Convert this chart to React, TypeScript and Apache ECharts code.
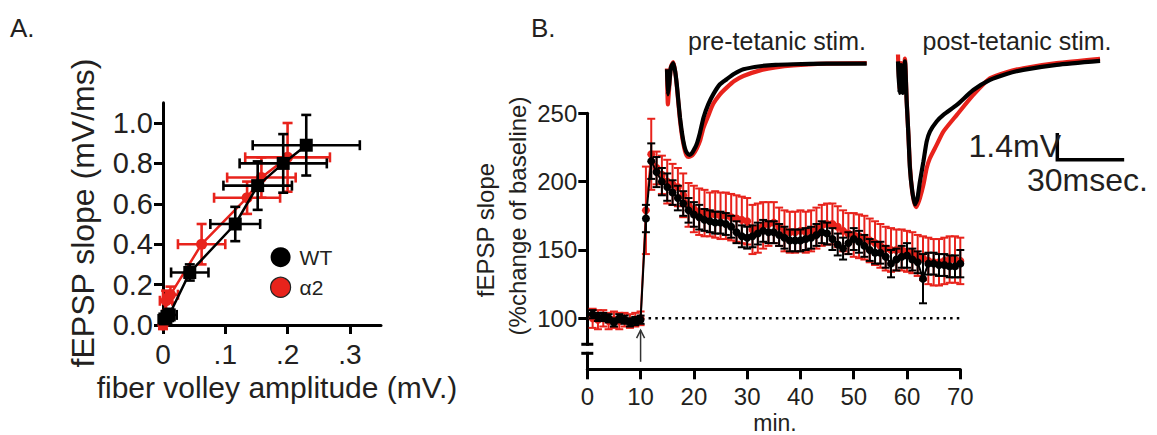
import React, { useEffect, useRef } from 'react';
import * as echarts from 'echarts';

const FONT = '"Liberation Sans", Arial, Helvetica, sans-serif';
const INK = '#231f20';
const RED = '#e8231c';
const BLACK = '#000000';

// ---------- Panel A: input/output ----------
const wtFiberVolley = [0.003, 0.01, 0.043, 0.116, 0.152, 0.193, 0.23];
const wtFiberVolleyErr = [0.01, 0.012, 0.03, 0.04, 0.055, 0.07, 0.086];
const wtSlope = [0.03, 0.05, 0.26, 0.5, 0.69, 0.8, 0.89];
const wtSlopeErr = [0.02, 0.03, 0.04, 0.085, 0.12, 0.145, 0.15];

const a2FiberVolley = [0.0, 0.005, 0.012, 0.062, 0.135, 0.158, 0.2];
const a2FiberVolleyErr = [0.004, 0.01, 0.012, 0.038, 0.053, 0.055, 0.068];
const a2Slope = [0.0, 0.12, 0.15, 0.4, 0.63, 0.73, 0.83];
const a2SlopeErr = [0.02, 0.05, 0.04, 0.1, 0.08, 0.1, 0.17];

const aXTicks = [0, 0.1, 0.2, 0.3];
const aYTicks = [0, 0.2, 0.4, 0.6, 0.8, 1.0];

// ---------- Panel B: LTP time course ----------
const minutes = Array.from({ length: 70 }, (_, i) => i + 1);
const wtPercent = [
  103, 101, 101, 100, 97, 100, 99, 97, 98, 99,
  173, 215, 207, 200, 196, 192, 188, 184, 179, 176,
  174, 172, 171, 170, 170, 169, 167, 163, 160, 159,
  160, 162, 164, 163, 163, 161, 159, 157, 157, 157,
  158, 159, 161, 163, 162, 158, 154, 151, 155, 158,
  156, 153, 150, 148, 148, 145, 140, 143, 145, 146,
  143, 141, 129, 140, 140, 139, 139, 138, 138, 140,
];
const wtPercentErr = [
  3, 3, 3, 3, 3, 3, 3, 3, 3, 3,
  10, 13, 11, 10, 10, 9, 9, 9, 9, 9,
  9, 8, 8, 8, 8, 8, 8, 8, 8, 8,
  8, 8, 8, 8, 8, 8, 8, 8, 8, 8,
  8, 8, 8, 8, 8, 8, 8, 8, 8, 8,
  8, 8, 8, 8, 8, 8, 10, 8, 8, 9,
  8, 8, 18, 8, 8, 8, 8, 8, 8, 10,
];
const a2Percent = [
  100, 99, 100, 98, 99, 98, 99, 98, 99, 100,
  179, 220, 210, 205, 200, 198, 196, 190, 183, 180,
  178, 177, 176, 176, 175, 175, 174, 173, 172, 171,
  165, 166, 168, 169, 170, 167, 164, 163, 163, 164,
  163, 164, 166, 168, 169, 169, 167, 164, 162, 161,
  160, 159, 157, 155, 153, 151, 150, 150, 150, 149,
  148, 146, 144, 142, 141, 141, 142, 143, 143, 142,
];
const a2PercentErr = [
  7, 7, 6, 6, 6, 6, 5, 5, 5, 5,
  32, 26, 12, 14, 16, 15, 14, 16, 16, 17,
  17, 17, 16, 17, 17, 17, 17, 17, 17, 17,
  18, 18, 17, 16, 15, 14, 15, 15, 15, 15,
  15, 15, 15, 15, 15, 15, 15, 15, 15, 16,
  16, 16, 16, 16, 16, 16, 16, 15, 15, 15,
  15, 15, 16, 17, 17, 17, 17, 17, 17, 17,
];
const bYTicks = [100, 150, 200, 250];
const baselineLevel = 100;
const dottedFrom = 11.5;
const stimMinute = 10;
const arrowFrom = 68.2;
const arrowTo = 91.4;
const breakUpper = 81;
const breakLower = 74.4;

// ---------- Insets: example traces (ms, mV) ----------
const preWtTrace: [number, number][] = [
  [0, -0.35], [0.4, -1.75], [1.0, -1.2], [1.8, -0.25], [2.9, 0.0], [3.8, -0.5],
  [4.5, -1.18], [5.3, -2.2], [6.0, -3.04], [6.8, -3.8], [7.5, -4.33], [8.3, -4.75],
  [9.1, -4.98], [10.3, -5.11], [11.2, -5.05], [12.1, -4.89], [13.7, -4.5],
  [15.2, -3.87], [16.8, -3.04], [19.0, -2.3], [21.3, -1.74], [24.4, -1.18],
  [27.5, -0.9], [31, -0.6], [35.2, -0.35], [42.9, -0.18], [50, -0.1],
  [58.2, -0.07], [73.6, -0.04], [92, -0.03],
];
const preA2Trace: [number, number][] = [
  [0, -0.3], [0.4, -2.3], [1.0, -1.4], [1.8, -0.2], [2.9, 0.05], [3.8, -0.5],
  [4.5, -1.25], [5.3, -2.3], [6.0, -3.2], [6.8, -3.95], [7.5, -4.45], [8.3, -4.9],
  [9.1, -5.15], [9.8, -5.22], [11.0, -5.18], [12.1, -5.07], [13.7, -4.75],
  [15.2, -4.33], [16.8, -3.6], [19.0, -2.94], [21.3, -2.27], [24.4, -1.74],
  [27.5, -1.37], [31, -1.0], [35.2, -0.72], [42.9, -0.41], [50, -0.24],
  [58.2, -0.13], [73.6, -0.04], [92, 0.0],
];
const postWtTrace: [number, number][] = [
  [0, -0.1], [0.6, -1.85], [1.4, -0.3], [2.2, -1.85], [3.2, -0.1],
  [4.0, -2.33], [4.8, -4.18], [5.5, -6.04], [6.6, -7.33], [7.8, -8.05],
  [8.9, -7.75], [10.1, -6.78], [11.7, -5.67], [13.2, -4.56], [14.7, -4.0],
  [17.8, -3.44], [20.9, -3.07], [27.1, -2.52], [34.7, -1.69], [42.4, -1.13],
  [50, -0.8], [57.7, -0.57], [73.1, -0.29], [93.1, -0.07],
];
const postA2Trace: [number, number][] = [
  [0, 0.28], [0.6, -1.7], [1.4, -0.2], [2.2, -1.6], [3.2, 0.05],
  [4.0, -2.3], [4.8, -4.2], [5.6, -6.1], [6.8, -7.55], [8.3, -8.2],
  [9.2, -8.0], [10.1, -7.7], [11.7, -6.96], [13.2, -6.04], [14.7, -5.48],
  [17.8, -4.74], [20.9, -4.0], [27.1, -3.07], [34.7, -1.96], [42.4, -1.04],
  [50, -0.7], [57.7, -0.48], [73.1, -0.2], [93.1, 0.04],
];
const scaleBarT0 = 73.4;
const scaleBarV0 = -5.57;
const scaleBarMs = 30;
const scaleBarMv = 1.4;

const errA = (color: string) => (params: any, api: any) => {
  const x = api.value(0), y = api.value(1), ex = api.value(2), ey = api.value(3);
  const l = api.coord([x - ex, y]);
  const r = api.coord([x + ex, y]);
  const b = api.coord([x, y - ey]);
  const t = api.coord([x, y + ey]);
  const c = 5;
  const style = { stroke: color, lineWidth: 2.6 };
  return {
    type: 'group',
    children: [
      { type: 'line', shape: { x1: l[0], y1: l[1], x2: r[0], y2: r[1] }, style },
      { type: 'line', shape: { x1: l[0], y1: l[1] - c, x2: l[0], y2: l[1] + c }, style },
      { type: 'line', shape: { x1: r[0], y1: r[1] - c, x2: r[0], y2: r[1] + c }, style },
      { type: 'line', shape: { x1: b[0], y1: b[1], x2: t[0], y2: t[1] }, style },
      { type: 'line', shape: { x1: b[0] - c, y1: b[1], x2: b[0] + c, y2: b[1] }, style },
      { type: 'line', shape: { x1: t[0] - c, y1: t[1], x2: t[0] + c, y2: t[1] }, style },
    ],
  };
};

const errB = (color: string) => (params: any, api: any) => {
  const x = api.value(0), y = api.value(1), e = api.value(2);
  const b = api.coord([x, y - e]);
  const t = api.coord([x, y + e]);
  const c = 4;
  const style = { stroke: color, lineWidth: 2 };
  return {
    type: 'group',
    children: [
      { type: 'line', shape: { x1: b[0], y1: b[1], x2: t[0], y2: t[1] }, style },
      { type: 'line', shape: { x1: b[0] - c, y1: b[1], x2: b[0] + c, y2: b[1] }, style },
      { type: 'line', shape: { x1: t[0] - c, y1: t[1], x2: t[0] + c, y2: t[1] }, style },
    ],
  };
};

const axisLineStyle = { width: 3, color: BLACK };

function buildOption(): any {
  const wtA = wtFiberVolley.map((x, i) => [x, wtSlope[i], wtFiberVolleyErr[i], wtSlopeErr[i]]);
  const a2A = a2FiberVolley.map((x, i) => [x, a2Slope[i], a2FiberVolleyErr[i], a2SlopeErr[i]]);
  const wtB = minutes.map((m, i) => [m, wtPercent[i], wtPercentErr[i]]);
  const a2B = minutes.map((m, i) => [m, a2Percent[i], a2PercentErr[i]]);
  const scaleBar = [
    [scaleBarT0, scaleBarV0 + scaleBarMv],
    [scaleBarT0, scaleBarV0],
    [scaleBarT0 + scaleBarMs, scaleBarV0],
  ];
  const traceStyle = (color: string, w: number) => ({
    type: 'line', showSymbol: false, symbol: 'none', silent: true, smooth: 0.2,
    lineStyle: { color, width: w }, itemStyle: { color },
  });
  return {
    animation: false,
    backgroundColor: '#ffffff',
    textStyle: { fontFamily: FONT },
    grid: [
      { left: 163, top: 102.8, width: 218, height: 222.2 },
      { left: 587.3, top: 113.3, width: 373, height: 256 },
      { left: 667, top: 50.4, width: 206.2, height: 120.6 },
      { left: 898, top: 47, width: 227.9, height: 165.6 },
    ],
    legend: {
      data: [
        { name: 'WT', icon: 'circle', itemStyle: { color: BLACK } },
        { name: 'α2', icon: 'circle', itemStyle: { color: RED, borderColor: '#222', borderWidth: 1.2 } },
      ],
      orient: 'vertical', left: 270, top: 246.7, padding: 0, itemWidth: 20, itemHeight: 20, itemGap: 9,
      selectedMode: false,
      textStyle: { fontSize: 21, color: INK, fontFamily: FONT, padding: [0, 0, 0, 4] },
    },
    xAxis: [
      {
        gridIndex: 0, type: 'value', min: 0, max: 0.35,
        axisLine: { lineStyle: axisLineStyle },
        axisTick: { length: 9, lineStyle: { width: 3, color: BLACK }, customValues: aXTicks },
        axisLabel: {
          customValues: aXTicks, fontSize: 28, color: INK, fontFamily: FONT, margin: 15,
          formatter: (v: number) => (v === 0 ? '0' : '.' + Math.round(v * 10)),
        },
        splitLine: { show: false },
      },
      {
        gridIndex: 1, type: 'value', min: 0, max: 70, interval: 10,
        axisLine: { lineStyle: axisLineStyle },
        axisTick: { length: 10, lineStyle: { width: 3, color: BLACK } },
        axisLabel: { fontSize: 24, color: INK, fontFamily: FONT, margin: 15 },
        splitLine: { show: false },
      },
      { gridIndex: 2, type: 'value', min: 0, max: 95, show: false },
      { gridIndex: 3, type: 'value', min: 0, max: 105, show: false },
    ],
    yAxis: [
      {
        gridIndex: 0, type: 'value', min: 0, max: 1.1,
        axisLine: { show: true, lineStyle: axisLineStyle },
        axisTick: { show: true, length: 9, lineStyle: { width: 3, color: BLACK }, customValues: aYTicks },
        axisLabel: {
          customValues: aYTicks, fontSize: 29, color: INK, fontFamily: FONT, margin: 10,
          formatter: (v: number) => v.toFixed(1),
        },
        splitLine: { show: false },
      },
      {
        gridIndex: 1, type: 'value', min: 62.7, max: 250,
        axisLine: { show: true, lineStyle: axisLineStyle },
        axisTick: { show: true, length: 9, lineStyle: { width: 3, color: BLACK }, customValues: bYTicks },
        axisLabel: { customValues: bYTicks, fontSize: 24, color: INK, fontFamily: FONT, margin: 10 },
        splitLine: { show: false },
      },
      { gridIndex: 2, type: 'value', min: -6, max: 0.7, show: false },
      { gridIndex: 3, type: 'value', min: -8.5, max: 0.7, show: false },
    ],
    series: [
      // Panel A
      {
        name: 'α2', type: 'custom', xAxisIndex: 0, yAxisIndex: 0, renderItem: errA(RED),
        data: a2A, encode: { x: 0, y: 1 }, silent: true, z: 2,
      },
      {
        name: 'α2', type: 'line', xAxisIndex: 0, yAxisIndex: 0,
        data: a2A.map((d) => [d[0], d[1]]), symbol: 'circle', symbolSize: 11,
        lineStyle: { color: RED, width: 2.5 }, itemStyle: { color: RED }, z: 3,
      },
      {
        name: 'WT', type: 'custom', xAxisIndex: 0, yAxisIndex: 0, renderItem: errA(BLACK),
        data: wtA, encode: { x: 0, y: 1 }, silent: true, z: 4,
      },
      {
        name: 'WT', type: 'line', xAxisIndex: 0, yAxisIndex: 0,
        data: wtA.map((d) => [d[0], d[1]]), symbol: 'rect', symbolSize: 13,
        lineStyle: { color: BLACK, width: 2.5 }, itemStyle: { color: BLACK }, z: 5,
      },
      // Panel B
      {
        type: 'line', xAxisIndex: 1, yAxisIndex: 1, silent: true, symbol: 'none',
        data: [[dottedFrom, baselineLevel], [70, baselineLevel]],
        lineStyle: { color: BLACK, width: 2.5, type: [2.5, 4.2] }, z: 1,
      },
      {
        name: 'α2', type: 'custom', xAxisIndex: 1, yAxisIndex: 1, renderItem: errB(RED),
        data: a2B, encode: { x: 0, y: 1 }, silent: true, z: 2,
      },
      {
        name: 'α2', type: 'line', xAxisIndex: 1, yAxisIndex: 1,
        data: a2B.map((d) => [d[0], d[1]]), symbol: 'circle', symbolSize: 8,
        lineStyle: { color: RED, width: 2 }, itemStyle: { color: RED }, z: 3,
      },
      {
        name: 'WT', type: 'custom', xAxisIndex: 1, yAxisIndex: 1, renderItem: errB(BLACK),
        data: wtB, encode: { x: 0, y: 1 }, silent: true, z: 4,
      },
      {
        name: 'WT', type: 'line', xAxisIndex: 1, yAxisIndex: 1,
        data: wtB.map((d) => [d[0], d[1]]), symbol: 'circle', symbolSize: 8,
        lineStyle: { color: BLACK, width: 2 }, itemStyle: { color: BLACK }, z: 5,
      },
      // Insets
      { ...traceStyle(RED, 4.2), xAxisIndex: 2, yAxisIndex: 2, data: preA2Trace, z: 2 },
      { ...traceStyle(BLACK, 4.2), xAxisIndex: 2, yAxisIndex: 2, data: preWtTrace, z: 3 },
      { ...traceStyle(RED, 4.2), xAxisIndex: 3, yAxisIndex: 3, data: postA2Trace, z: 2 },
      { ...traceStyle(BLACK, 4.2), xAxisIndex: 3, yAxisIndex: 3, data: postWtTrace, z: 3 },
      {
        type: 'line', xAxisIndex: 3, yAxisIndex: 3, data: scaleBar, symbol: 'none', silent: true,
        lineStyle: { color: BLACK, width: 3.5, cap: 'square', join: 'miter' }, z: 3,
      },
    ],
  };
}

function text(x: number, y: number, s: string, size: number, align = 'center', rotation = 0): any {
  return {
    type: 'text', x, y, rotation, silent: true, z: 100,
    style: { text: s, fontSize: size, fontFamily: FONT, fill: INK, align, verticalAlign: 'middle' },
  };
}

export default function App() {
  const ref = useRef<HTMLDivElement>(null);
  useEffect(() => {
    const chart = echarts.init(ref.current!, null, { renderer: 'svg' });
    chart.setOption(buildOption());
    const conv = (v: [number, number]) =>
      chart.convertToPixel({ xAxisIndex: 1, yAxisIndex: 1 }, v) as number[];
    const bu = conv([0, breakUpper]);
    const bl = conv([0, breakLower]);
    const ab = conv([stimMinute, arrowFrom]);
    const at = conv([stimMinute, arrowTo]);
    const graphics: any[] = [
      text(10, 28, 'A.', 26, 'left'),
      text(531, 28, 'B.', 26, 'left'),
      text(83, 213, 'fEPSP slope (mV/ms)', 32, 'center', Math.PI / 2),
      text(277, 387, 'fiber volley amplitude (mV.)', 30),
      text(485, 230, 'fEPSP slope', 24, 'center', Math.PI / 2),
      text(517, 216, '(%change of baseline)', 24, 'center', Math.PI / 2),
      text(775, 423, 'min.', 23),
      text(777, 41, 'pre-tetanic stim.', 25),
      text(1017, 41, 'post-tetanic stim.', 25),
      text(1061, 146, '1.4mV', 32, 'right'),
      text(1027, 180, '30msec.', 32, 'left'),
      {
        type: 'rect', silent: true, z: 50,
        shape: { x: bu[0] - 4, y: bu[1] + 1.5, width: 8, height: bl[1] - bu[1] - 3 },
        style: { fill: '#ffffff' },
      },
      {
        type: 'line', silent: true, z: 51,
        shape: { x1: bu[0] - 6, y1: bu[1], x2: bu[0] + 6, y2: bu[1] },
        style: { stroke: BLACK, lineWidth: 3 },
      },
      {
        type: 'line', silent: true, z: 51,
        shape: { x1: bl[0] - 6, y1: bl[1], x2: bl[0] + 6, y2: bl[1] },
        style: { stroke: BLACK, lineWidth: 3 },
      },
      {
        type: 'line', silent: true, z: 51,
        shape: { x1: ab[0], y1: ab[1], x2: at[0], y2: at[1] },
        style: { stroke: '#333333', lineWidth: 1.5 },
      },
      {
        type: 'polyline', silent: true, z: 51,
        shape: { points: [[at[0] - 4, at[1] + 8], [at[0], at[1]], [at[0] + 4, at[1] + 8]] },
        style: { stroke: '#333333', lineWidth: 1.5, fill: 'none' },
      },
    ];
    chart.setOption({ graphic: graphics });
    return () => chart.dispose();
  }, []);
  return (
    <div
      ref={ref}
      style={{ position: 'absolute', left: 0, top: 0, width: 1157, height: 435, background: '#fff' }}
    />
  );
}
